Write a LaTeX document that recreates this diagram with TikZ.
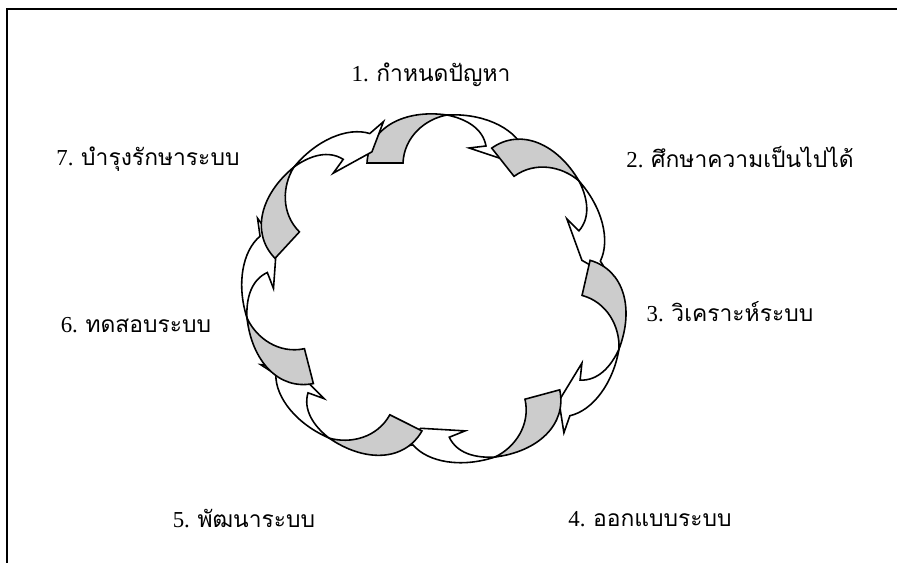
\documentclass[tikz,border=0pt]{standalone}
\usepackage{fontspec}
\setmainfont{Liberation Serif}
\newfontfamily\thaifont[Script=Thai]{Loma}
\tikzset{
  grayband/.style={fill=black!20, draw=black, line width=1.35pt, line join=miter},
  whiteband/.style={fill=white, draw=black, line width=1.35pt, line join=miter},
  lbl/.style={font=\fontsize{19.5}{23}\selectfont, inner sep=0pt},
  frameline/.style={draw=black, line width=1.1pt}
}
\newcommand\cycarrow[2]{%
  \begin{scope}[shift={(#1)}, rotate=#2, x=0.03cm, y=0.03cm]
    \filldraw[grayband] (-80,-48) .. controls (-78,-12) and (-42,6) .. (0,0)
      .. controls (-22,-4) and (-43,-22) .. (-44,-48) -- cycle;
    \filldraw[whiteband] (0,0) .. controls (35,2) and (66,-12) .. (76,-33)
      -- (94,-35) -- (64,-47) -- (22,-33) -- (39,-31)
      .. controls (36,-14) and (20,-4) .. (0,0) -- cycle;
  \end{scope}}
\begin{document}
\begin{tikzpicture}[x=0.03cm, y=-0.03cm]
\useasboundingbox (0,0) rectangle (897,563);
\fill[white] (0,0) rectangle (897,563);
\draw[frameline] (7,563) -- (7,9) -- (897,9);
\coordinate (t1) at (447,115);
\coordinate (t2) at (579,181);
\coordinate (t3) at (619,349);
\coordinate (t4) at (495,457);
\coordinate (t5) at (329,438);
\coordinate (t6) at (247,318);
\coordinate (t7) at (294,167);
\cycarrow{t1}{0}
\cycarrow{t2}{-51.6}
\cycarrow{t3}{-102.9}
\cycarrow{t4}{-164.9}
\cycarrow{t5}{153.4}
\cycarrow{t6}{104.4}
\cycarrow{t7}{47.3}
\node[lbl] (l1) at (431,75) {1. {\thaifont กำหนดปัญหา}};
\node[lbl] (l2) at (740,157) {2. {\thaifont ศึกษาความเป็นไปได้}};
\node[lbl] (l3) at (730,312) {3. {\thaifont วิเคราะห์ระบบ}};
\node[lbl] (l4) at (650,519) {4. {\thaifont ออกแบบระบบ}};
\node[lbl] (l5) at (244,519) {5. {\thaifont พัฒนาระบบ}};
\node[lbl] (l6) at (136,325) {6. {\thaifont ทดสอบระบบ}};
\node[lbl] (l7) at (148,159) {7. {\thaifont บำรุงรักษาระบบ}};
\end{tikzpicture}
\end{document}
